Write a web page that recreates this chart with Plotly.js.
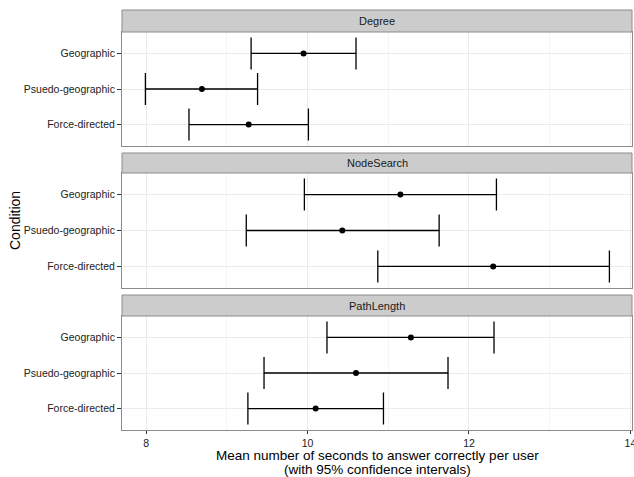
<!DOCTYPE html>
<html>
<head>
<meta charset="utf-8">
<script src="https://cdn.plot.ly/plotly-3.0.1.min.js"></script>
<style>html,body{margin:0;padding:0;background:#fff;}#chart{width:634px;height:477px;}</style>
</head>
<body>
<div id="chart"></div>
<script>
// Data
const categories = ['Geographic', 'Psuedo-geographic', 'Force-directed'];
const facets = ['Degree', 'NodeSearch', 'PathLength'];

const degreeMean = [9.95, 8.69, 9.27];
const degreeLow  = [9.30, 7.99, 8.53];
const degreeHigh = [10.60, 9.38, 10.01];

const nodeMean = [11.15, 10.43, 12.30];
const nodeLow  = [9.96, 9.24, 10.87];
const nodeHigh = [12.34, 11.63, 13.74];

const pathMean = [11.28, 10.60, 10.10];
const pathLow  = [10.24, 9.46, 9.26];
const pathHigh = [12.31, 11.74, 10.94];

const xTickVals = [8, 10, 12, 14];

const series = [
  {mean: degreeMean, low: degreeLow, high: degreeHigh},
  {mean: nodeMean, low: nodeLow, high: nodeHigh},
  {mean: pathMean, low: pathLow, high: pathHigh}
];

// Layout geometry (pixels)
const W = 634, H = 477;
const mL = 122, mR = 2, mT = 10, mB = 47;
const plotH = H - mT - mB; // 420
function py(pix) { return (H - mB - pix) / plotH; }

const panels = [
  {head: [10, 32], body: [32, 146]},
  {head: [153, 173], body: [173, 288]},
  {head: [295, 316], body: [316, 430]}
];

const traces = series.map((s, i) => {
  const sfx = i === 0 ? '' : String(i + 1);
  return {
    type: 'scatter', mode: 'markers',
    x: s.mean, y: categories,
    xaxis: 'x' + sfx, yaxis: 'y' + sfx,
    marker: {color: '#000', size: 6},
    error_x: {
      type: 'data', symmetric: false,
      array: s.mean.map((m, k) => s.high[k] - m),
      arrayminus: s.mean.map((m, k) => m - s.low[k]),
      color: '#000', thickness: 1.3, width: 16
    },
    showlegend: false, hoverinfo: 'x+y'
  };
});

const layout = {
  width: W, height: H,
  margin: {l: mL, r: mR, t: mT, b: mB},
  paper_bgcolor: '#fff', plot_bgcolor: '#fff',
  font: {family: 'Liberation Sans, Arial, sans-serif', color: '#222', size: 11},
  showlegend: false,
  shapes: [], annotations: []
};

panels.forEach((p, i) => {
  const sfx = i === 0 ? '' : String(i + 1);
  const isBottom = i === panels.length - 1;
  layout['xaxis' + sfx] = {
    domain: [0, 1], anchor: 'y' + sfx,
    range: [7.70, 14.02],
    tickvals: xTickVals,
    showticklabels: isBottom,
    ticklabeloverflow: 'allow',
    ticks: isBottom ? 'outside' : '', ticklen: 3, tickcolor: '#333',
    showgrid: true, gridcolor: '#ebebeb', gridwidth: 1,
    minor: {dtick: 1, tick0: 8, showgrid: true, gridcolor: '#f5f5f5', gridwidth: 1},
    zeroline: false,
    showline: true, mirror: true, linecolor: '#8c8c8c', linewidth: 1,
    tickfont: {size: 10.5, color: '#222'},
    automargin: false,
    fixedrange: true
  };
  if (i > 0) layout['xaxis' + sfx].matches = 'x';
  layout['yaxis' + sfx] = {
    domain: [py(p.body[1]), py(p.body[0])], anchor: 'x' + sfx,
    type: 'category',
    categoryorder: 'array', categoryarray: categories.slice().reverse(),
    range: [-0.6, 2.6],
    ticks: 'outside', ticklen: 4, tickcolor: '#333',
    showgrid: true, gridcolor: '#ebebeb', gridwidth: 1,
    zeroline: false,
    showline: true, mirror: true, linecolor: '#8c8c8c', linewidth: 1,
    tickfont: {size: 10.5, color: '#222'},
    automargin: false,
    fixedrange: true
  };
  layout.shapes.push({
    type: 'rect', xref: 'paper', yref: 'paper',
    x0: 0, x1: 1, y0: py(p.head[1]), y1: py(p.head[0]),
    fillcolor: '#cccccc', line: {color: '#8c8c8c', width: 1}, layer: 'above'
  });
  layout.annotations.push({
    xref: 'paper', yref: 'paper', x: 0.5, y: (py(p.head[1]) + py(p.head[0])) / 2,
    xanchor: 'center', yanchor: 'middle', showarrow: false,
    text: facets[i], font: {size: 11, color: '#1a1a1a'}
  });
});

layout.annotations.push({
  xref: 'paper', yref: 'paper', x: 0.5, y: py(455),
  xanchor: 'center', yanchor: 'middle', showarrow: false,
  text: 'Mean number of seconds to answer correctly per user',
  font: {size: 13.5, color: '#000'}
});
layout.annotations.push({
  xref: 'paper', yref: 'paper', x: 0.5, y: py(469.5),
  xanchor: 'center', yanchor: 'middle', showarrow: false,
  text: '(with 95% confidence intervals)',
  font: {size: 13.5, color: '#000'}
});
layout.annotations.push({
  xref: 'paper', yref: 'paper', x: (15 - mL) / (W - mL - mR), y: py(221),
  xanchor: 'center', yanchor: 'middle', showarrow: false, textangle: -90,
  text: 'Condition', font: {size: 14, color: '#000'}
});

Plotly.newPlot('chart', traces, layout, {displayModeBar: false, staticPlot: true});
</script>
</body>
</html>
